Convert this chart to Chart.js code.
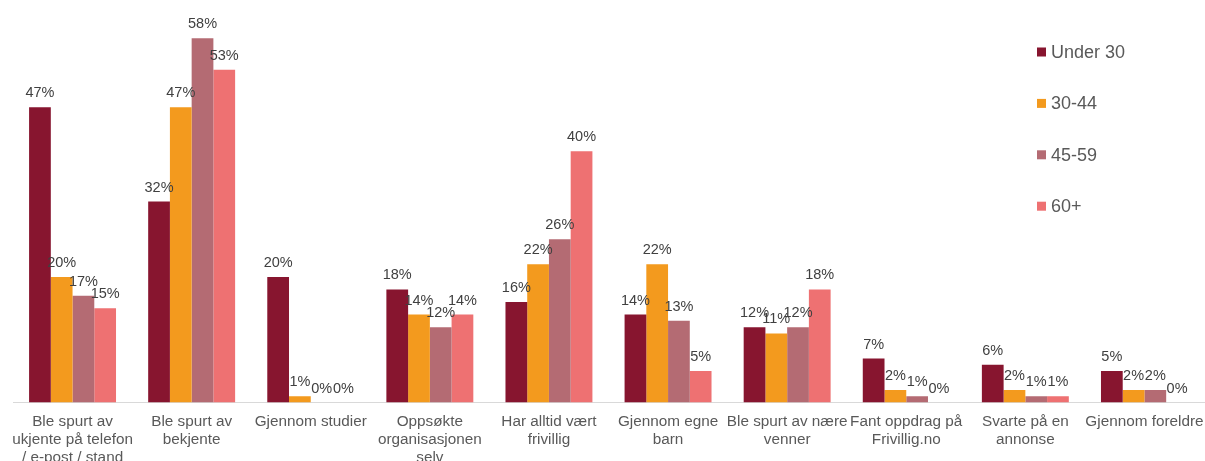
<!DOCTYPE html>
<html lang="no">
<head>
<meta charset="utf-8">
<title>Hvordan ble du frivillig?</title>
<script src="https://cdn.jsdelivr.net/npm/chart.js@4"></script>
<style>
  html, body { margin: 0; padding: 0; background: #ffffff; overflow: hidden; }
  #wrap { position: relative; width: 1205px; height: 461px; }
</style>
</head>
<body>
<div id="wrap"><canvas id="chart" width="1205" height="461"></canvas></div>
<script>
// Categories (multi-line axis labels)
const categories = [
  ["Ble spurt av", "ukjente på telefon", "/ e-post / stand"],
  ["Ble spurt av", "bekjente"],
  ["Gjennom studier"],
  ["Oppsøkte", "organisasjonen", "selv"],
  ["Har alltid vært", "frivillig"],
  ["Gjennom egne", "barn"],
  ["Ble spurt av nære", "venner"],
  ["Fant oppdrag på", "Frivillig.no"],
  ["Svarte på en", "annonse"],
  ["Gjennom foreldre"]
];

// Share (%) per age group
const seriesNames = ["Under 30", "30-44", "45-59", "60+"];
const under30 = [47, 32, 20, 18, 16, 14, 12, 7, 6, 5];
const age30to44 = [20, 47, 1, 14, 22, 22, 11, 2, 2, 2];
const age45to59 = [17, 58, 0, 12, 26, 13, 12, 1, 1, 2];
const age60plus = [15, 53, 0, 14, 40, 5, 18, 0, 1, 0];

const colors = ["#87152f", "#f39a1e", "#b46b73", "#ee7172"];
const seriesValues = [under30, age30to44, age45to59, age60plus];

const FONT = "'Liberation Sans', Arial, sans-serif";

// Percentage labels above each bar
const valueLabels = {
  id: "valueLabels",
  afterDatasetsDraw(chart) {
    const ctx = chart.ctx;
    ctx.save();
    ctx.font = "14.5px " + FONT;
    ctx.fillStyle = "#404040";
    ctx.textAlign = "center";
    ctx.textBaseline = "alphabetic";
    chart.data.datasets.forEach((ds, i) => {
      const meta = chart.getDatasetMeta(i);
      meta.data.forEach((bar, j) => {
        ctx.fillText(ds.data[j] + "%", bar.x, bar.y - 10);
      });
    });
    ctx.restore();
  }
};

// Vertical legend at the upper right
const sideLegend = {
  id: "sideLegend",
  afterDraw(chart) {
    const ctx = chart.ctx;
    ctx.save();
    ctx.font = "18px " + FONT;
    ctx.textBaseline = "middle";
    ctx.textAlign = "left";
    chart.data.datasets.forEach((ds, i) => {
      const cy = 52 + i * 51.4;
      ctx.fillStyle = ds.backgroundColor;
      ctx.fillRect(1037, cy - 4.5, 9, 9);
      ctx.fillStyle = "#595959";
      ctx.fillText(ds.label, 1051, cy + 1);
    });
    ctx.restore();
  }
};

new Chart(document.getElementById("chart"), {
  type: "bar",
  data: {
    labels: categories,
    datasets: seriesNames.map((name, i) => ({
      label: name,
      data: seriesValues[i],
      backgroundColor: colors[i],
      borderWidth: 0,
      barPercentage: 1,
      categoryPercentage: 0.73
    }))
  },
  options: {
    responsive: false,
    animation: false,
    devicePixelRatio: 1,
    layout: { padding: { top: 25.7, left: 13, right: 1, bottom: 0 } },
    plugins: {
      legend: { display: false },
      tooltip: { enabled: false }
    },
    scales: {
      x: {
        grid: { display: false, drawTicks: false },
        border: { display: true, color: "#d9d9d9", width: 1 },
        ticks: {
          autoSkip: false,
          maxRotation: 0,
          minRotation: 0,
          padding: 10,
          color: "#595959",
          font: { family: FONT, size: 15.3, lineHeight: 1.18 }
        },
        afterFit(scale) {
          scale.height = 58.5;
          scale.paddingLeft = 0;
          scale.paddingRight = 0;
        }
      },
      y: {
        display: false,
        min: 0,
        max: 60
      }
    }
  },
  plugins: [valueLabels, sideLegend]
});
</script>
</body>
</html>
